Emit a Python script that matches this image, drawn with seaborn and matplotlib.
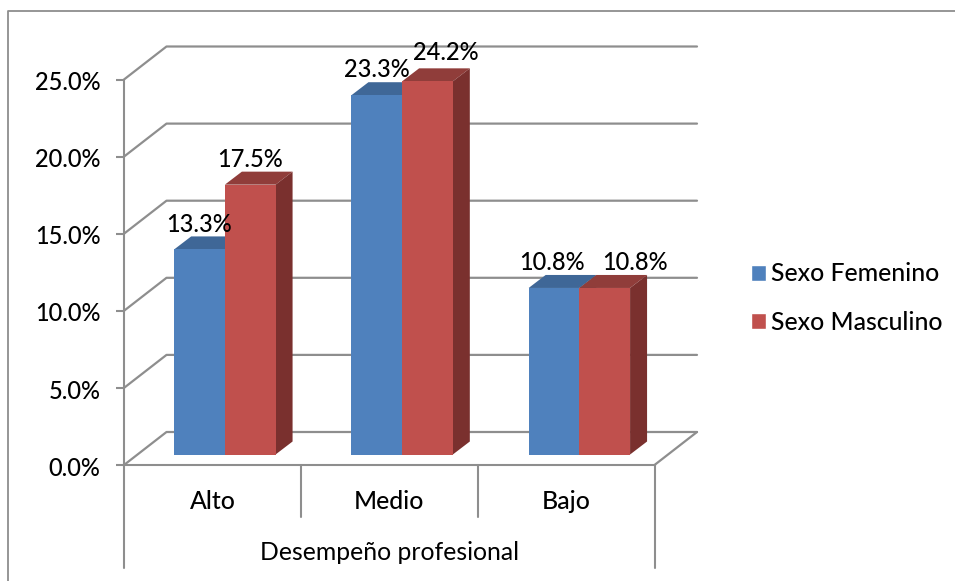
import matplotlib
matplotlib.use("Agg")
import matplotlib.pyplot as plt
import seaborn as sns
import pandas as pd
from matplotlib.lines import Line2D
from matplotlib.patches import Polygon
from matplotlib.ticker import FuncFormatter
from matplotlib.transforms import IdentityTransform, ScaledTranslation

# ---- data ----
categories = ["Alto", "Medio", "Bajo"]
series_names = ["Sexo Femenino", "Sexo Masculino"]
femenino = [13.3, 23.3, 10.8]
masculino = [17.5, 24.2, 10.8]
y_ticks = [0, 5, 10, 15, 20, 25]
axis_title = "Desempeño profesional"

# ---- styles ----
colors = ["#4F81BD", "#C0504D"]
tops = ["#3F6797", "#903D3A"]
sides = ["#335478", "#7A302E"]
line_c = "#8E8E8E"
W, H = 955, 581
FS = 17
FS_TXT = 17.8
label_shift = {("Sexo Femenino", 0): (0, 25), ("Sexo Femenino", 1): (0, 26), ("Sexo Femenino", 2): (-2, 25),
               ("Sexo Masculino", 0): (0, 25), ("Sexo Masculino", 1): (18, 29), ("Sexo Masculino", 2): (30, 25)}

df = pd.DataFrame({
    "Nivel": categories * 2,
    "Sexo": [series_names[0]] * 3 + [series_names[1]] * 3,
    "Valor": femenino + masculino,
})

sns.set_theme(style="white")
plt.rcParams["font.family"] = ["Lato", "DejaVu Sans"]
plt.rcParams["font.weight"] = "medium"

fig = plt.figure(figsize=(W / 100, H / 100), dpi=100, facecolor="white")


def axes_px(x0, x1, y_top, y_bottom):
    return fig.add_axes([x0 / W, 1 - y_bottom / H, (x1 - x0) / W, (y_bottom - y_top) / H])


# Front plane of the faux 3D box: carries the real axis, ticks and labels
front = axes_px(124, 654.5, 79.5, 465)
front.set_xlim(-0.5, 2.5)
front.set_ylim(0, 25)
front.patch.set_alpha(0)
front.set_zorder(1)
for s in ["top", "right"]:
    front.spines[s].set_visible(False)
for s in ["left", "bottom"]:
    front.spines[s].set_color(line_c)
    front.spines[s].set_linewidth(1.5)
front.set_yticks(y_ticks)
front.yaxis.set_major_formatter(FuncFormatter(lambda v, _: f"{v:.1f}%"))
front.tick_params(axis="y", length=6, width=1.5, color=line_c, labelsize=FS, labelcolor="black",
                  pad=11, left=True)
label_down = ScaledTranslation(0, -0.8 / 72, fig.dpi_scale_trans)
for tick in front.yaxis.get_major_ticks():
    tick.label1.set_transform(tick.label1.get_transform() + label_down)
front.set_xticks(range(len(categories)))
front.set_xticklabels(categories)
front.tick_params(axis="x", length=0, labelsize=FS_TXT, labelcolor="black", pad=17.8)
front.set_xlabel(axis_title, fontsize=FS_TXT, color="black", labelpad=20)

# Wall / floor lines, drawn from the front axis scale
depth = (42.5, 33)
for v in y_ticks:
    fx, fy = front.transData.transform((-0.5, v))
    rx, _ = front.transData.transform((2.5, v))
    front.add_line(Line2D([fx, fx + depth[0], rx + depth[0]], [fy, fy + depth[1], fy + depth[1]],
                          transform=IdentityTransform(), color=line_c, lw=1.6, clip_on=False, zorder=1))
fx, fy = front.transData.transform((2.5, 0))
front.add_line(Line2D([fx, fx + depth[0]], [fy, fy + depth[1]], transform=IdentityTransform(),
                      color=line_c, lw=1.6, clip_on=False, zorder=1))

# Category separators below the floor
xform = front.get_xaxis_transform()
short, long_ = -52 / 385.5, -103 / 385.5
for x, low in zip([-0.5, 0.5, 1.5, 2.5], [long_, short, short, long_]):
    front.plot([x, x], [0, low], transform=xform, color=line_c, lw=1.5, clip_on=False, zorder=1)

# Bars: slightly inside the box
bars = axes_px(136.25, 668, 69, 454.5)
bars.set_zorder(2)
sns.barplot(data=df, x="Nivel", y="Valor", hue="Sexo", hue_order=series_names, order=categories,
            palette=colors, width=0.572, gap=0, saturation=1, ax=bars)
bars.set_xlim(-0.5, 2.5)
bars.set_ylim(0, 25)
bars.axis("off")
bars.patch.set_alpha(0)

handles, labels = bars.get_legend_handles_labels()
bars.get_legend().remove()

# Extrude every bar from its own geometry
bar_depth = (17, 13)
for s, cont in enumerate(bars.containers):
    for i, p in enumerate(cont.patches):
        p.set_edgecolor("none")
        p.set_zorder(3 + s)
        x0, x1 = p.get_x(), p.get_x() + p.get_width()
        h = p.get_height()
        (ax0, ay1) = bars.transData.transform((x0, h))
        (ax1, ay0) = bars.transData.transform((x1, 0))
        dx, dy = bar_depth
        top = Polygon([(ax0, ay1), (ax1, ay1), (ax1 + dx, ay1 + dy), (ax0 + dx, ay1 + dy)],
                      closed=True, transform=IdentityTransform(), facecolor=tops[s], edgecolor="none",
                      zorder=2.5 + s, clip_on=False)
        side = Polygon([(ax1, ay0), (ax1 + dx, ay0 + dy), (ax1 + dx, ay1 + dy), (ax1, ay1)],
                       closed=True, transform=IdentityTransform(), facecolor=sides[s], edgecolor="none",
                       zorder=2.5 + s, clip_on=False)
        bars.add_patch(top)
        bars.add_patch(side)
        sx, sy = label_shift[(series_names[s], i)]
        bars.annotate(f"{h:.1f}%", xy=((x0 + x1) / 2, h), xytext=(sx * 0.72, sy * 0.72),
                      textcoords="offset points", ha="center", va="center",
                      fontsize=FS, color="black", zorder=10, annotation_clip=False)

# Legend
fig.legend(handles, labels, loc="upper left", bbox_to_anchor=(741 / W, 1 - 252.5 / H), frameon=False,
           fontsize=FS_TXT, handlelength=0.6, handleheight=0.6, handletextpad=0.2,
           labelspacing=1.02, borderpad=0.4, borderaxespad=0, labelcolor="black")

# Chart area border (left and top edges are what remains of it)
fig.add_artist(Line2D([7.5 / W, 7.5 / W, 1], [0, 1 - 10.5 / H, 1 - 10.5 / H], transform=fig.transFigure,
                      color=line_c, lw=1.3))

fig.savefig("out.png", dpi=100, facecolor="white")
